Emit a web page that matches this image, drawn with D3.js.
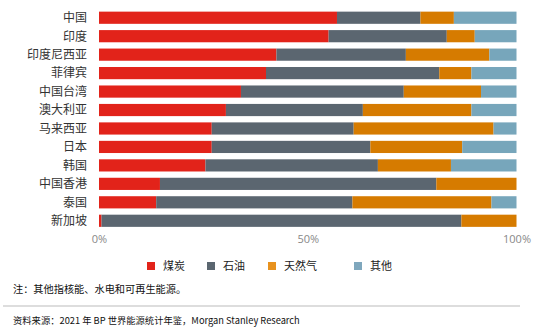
<!DOCTYPE html>
<html>
<head>
<meta charset="utf-8">
<script src="https://cdn.jsdelivr.net/npm/d3@7"></script>
<style>
  body { margin: 0; background: #fff; }
  svg { font-family: "Noto Sans CJK SC", "Noto Sans", sans-serif; }
</style>
</head>
<body>
<script>
const regions = ['中国', '印度', '印度尼西亚', '菲律宾', '中国台湾', '澳大利亚', '马来西亚', '日本', '韩国', '中国香港', '泰国', '新加坡'];
const coal = [57, 55, 42.5, 40, 34, 30.4, 27, 27, 25.5, 14.6, 13.7, 0.6];
const oil = [20, 28.3, 31, 41.5, 39, 32.8, 34, 38, 41.3, 66.2, 47, 86.2];
const gas = [8, 6.7, 20, 7.7, 18.5, 26, 33.5, 22, 17.5, 19.2, 33.3, 13.2];
const other = [15, 10, 6.5, 10.8, 8.5, 10.8, 5.5, 13, 15.7, 0, 6, 0];
const seriesNames = ['煤炭', '石油', '天然气', '其他'];
const barColors = ['#e2231a', '#5b6670', '#d67b00', '#77a6bb'];
const legendColors = ['#e2231a', '#5b6670', '#e8921e', '#7fa7bd'];
const tickVals = [0, 50, 100];

const w = 550, h = 332;
const svg = d3.select('body').append('svg').attr('width', w).attr('height', h);

const x = d3.scaleLinear().domain([0, 100]).range([99, 516.5]);
const y = d3.scaleBand().domain(regions).range([8.5, 230]).paddingInner(0.34).paddingOuter(0.17);

const stackData = regions.map((r, i) => {
  const o = { region: r };
  [coal, oil, gas, other].forEach((arr, k) => o[seriesNames[k]] = arr[i]);
  return o;
});
const stacked = d3.stack().keys(seriesNames)(stackData);

svg.append('g').selectAll('g')
  .data(stacked)
  .enter().append('g')
  .attr('fill', (d, i) => barColors[i])
  .selectAll('rect')
  .data(d => d)
  .enter().append('rect')
  .attr('x', d => x(d[0]))
  .attr('y', d => y(d.data.region))
  .attr('width', d => Math.max(0, x(d[1]) - x(d[0])))
  .attr('height', y.bandwidth());

// category labels
svg.append('g').selectAll('text')
  .data(regions)
  .enter().append('text')
  .attr('x', 87)
  .attr('y', d => y(d) + y.bandwidth() / 2)
  .attr('dy', '0.36em')
  .attr('text-anchor', 'end')
  .attr('font-size', 12)
  .attr('fill', '#333')
  .text(d => d);

// x axis labels
const xAxis = d3.axisBottom(x).tickValues(tickVals).tickFormat(d => d + '%').tickSize(0).tickPadding(0);
const ax = svg.append('g').attr('transform', 'translate(0,235)').call(xAxis);
ax.select('.domain').remove();
ax.selectAll('text').attr('font-size', 11).attr('fill', '#888')
  .attr('font-family', '"Open Sans", "Noto Sans", sans-serif');

// legend
const legendX = [147, 207, 268, 354];
const lg = svg.append('g').selectAll('g')
  .data(seriesNames)
  .enter().append('g')
  .attr('transform', (d, i) => `translate(${legendX[i]},262)`);
lg.append('rect').attr('width', 8).attr('height', 8).attr('fill', (d, i) => legendColors[i]);
lg.append('text').attr('x', 16).attr('y', 4).attr('dy', '0.36em')
  .attr('font-size', 11).attr('fill', '#222').text(d => d);

svg.append('text').attr('x', 13).attr('y', 293)
  .attr('font-size', 10.2).attr('fill', '#111')
  .text('注：其他指核能、水电和可再生能源。');

svg.append('line').attr('x1', 3).attr('x2', 520).attr('y1', 306).attr('y2', 306)
  .attr('stroke', '#bbb').attr('stroke-width', 1);

svg.append('text').attr('x', 13).attr('y', 324)
  .attr('font-size', 9.3).attr('fill', '#111')
  .text('资料来源：2021 年 BP 世界能源统计年鉴，Morgan Stanley Research');
</script>
</body>
</html>
